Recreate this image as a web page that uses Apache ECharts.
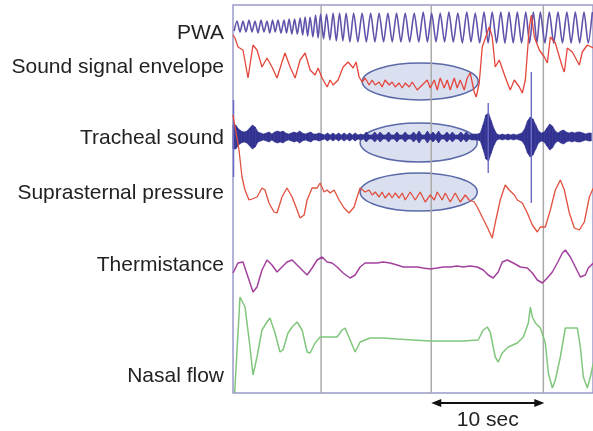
<!DOCTYPE html>
<html>
<head>
<meta charset="utf-8">
<script src="https://cdn.jsdelivr.net/npm/echarts@6/dist/echarts.min.js"></script>
<style>
  html, body { margin: 0; padding: 0; background: #fff; }
  #chart { width: 593px; height: 431px; }
</style>
</head>
<body>
<div id="chart"></div>
<script>
// time in seconds, amplitudes in arbitrary units
var timeMax = 32.4;
var gridTimes = [7.93, 17.84, 27.93];
var traceNames = ['PWA', 'Sound signal envelope', 'Tracheal sound', 'Suprasternal pressure', 'Thermistance', 'Nasal flow'];

var pwa = [
  [0.10,14],[0.36,24],[0.63,13],[0.90,24],[1.17,13],[1.44,25],[1.71,13],[1.98,24],[2.25,12],[2.52,25],
  [2.79,13],[3.06,24],[3.31,12],[3.56,25],[3.80,13],[4.05,25],[4.32,12],[4.59,25],[4.82,12],[5.05,26],
  [5.30,11],[5.54,26],[5.79,11],[6.04,27],[6.27,10],[6.49,28],[6.72,9],[6.94,28],[7.19,8],[7.43,30],
  [7.66,7],[7.88,31],[8.15,6],[8.42,31],[8.72,5],[9.01,32],[9.30,4],[9.59,32],[9.89,4],[10.18,32],
  [10.52,3],[10.86,32],[11.24,3],[11.62,32],[12.00,3],[12.39,32],[12.77,3],[13.15,32],[13.55,3],[13.94,32],
  [14.33,3],[14.72,32],[15.11,3],[15.50,32],[15.90,3],[16.31,32],[16.72,3],[17.12,33],[17.50,3],[17.88,32],
  [18.27,3],[18.65,32],[19.04,3],[19.43,33],[19.83,3],[20.23,32],[20.64,2],[21.04,33],[21.42,3],[21.80,32],
  [22.20,2],[22.59,33],[22.96,2],[23.33,33],[23.72,2],[24.10,33],[24.47,2],[24.84,33],[25.22,2],[25.59,33],
  [25.97,2],[26.35,33],[26.69,2],[27.03,33],[27.35,2],[27.66,33],[28.07,2],[28.47,33],[28.86,2],[29.25,33],
  [29.65,2],[30.05,33],[30.43,2],[30.81,33],[31.20,2],[31.59,33],[31.97,2],[32.34,33]
];

var envelope = [
  [0,65],[0.18,62],[0.45,53],[0.90,50],[1.35,22],[1.80,55],[2.16,50],[2.61,33],[3.06,42],[3.51,33],
  [3.96,22],[4.41,38],[4.68,47],[5.14,33],[5.59,22],[6.04,40],[6.49,47],[6.94,30],[7.39,25],[7.66,32],
  [8.02,22],[8.47,13],[8.74,20],[9.01,15],[9.46,20],[9.91,33],[10.36,38],[10.81,32],[11.08,38],[11.35,23],
  [11.62,18],[11.89,22],[12.25,15],[12.52,20],[12.79,15],[13.15,18],[13.42,13],[13.69,20],[14.05,15],[14.32,18],
  [14.59,13],[14.95,17],[15.23,12],[15.50,17],[15.86,13],[16.13,18],[16.58,10],[17.03,15],[17.48,20],[17.75,12],
  [18.11,20],[18.38,10],[18.65,22],[19.01,12],[19.28,20],[19.55,10],[19.91,22],[20.18,12],[20.45,20],[20.81,10],
  [21.08,22],[21.35,27],[21.71,8],[21.89,3],[22.16,17],[22.43,53],[23.06,73],[23.33,63],[23.60,33],[23.96,40],
  [24.50,23],[24.95,10],[25.32,20],[25.77,13],[26.04,7],[26.31,20],[26.67,73],[26.85,85],[27.12,63],[27.57,50],
  [28.02,43],[28.29,37],[28.56,63],[29.01,57],[29.64,33],[29.82,28],[30.09,52],[30.54,48],[31.17,35],[31.44,48],
  [31.89,55],[32.43,52]
];

// tracheal sound: half-height of the noise band every 0.25 s
var trachStep = 0.25;
var trachAmp = [
  12,12,8,6,5,6,9,12,10,5,
  4,3,4,5,3,5,6,5,6,4,
  3,4,5,4,6,4,3,4,5,3,
  3,4,3,2,4,2,4,2,4,2,
  4,2,4,2,4,2,3,2,5,2,
  2,5,2,5,2,2,5,2,2,5,
  2,2,5,2,2,5,2,6,2,2,
  6,2,5,2,6,2,2,5,2,5,
  2,2,5,2,5,2,3,3,3,4,
  12,22,24,16,8,3,2,3,2,3,
  2,3,2,3,4,8,16,20,18,12,
  6,4,5,9,13,11,6,4,6,7,
  5,4,5,4,5,5,4,3,4,4
];
// thin spikes: [time, top, bottom]
var trachSpikes = [[0.05, 37, -40], [22.97, 34, -36], [26.85, 65, -66]];

var suprasternal = [
  [0,100],[0.09,98],[0.54,65],[0.81,38],[1.08,25],[1.44,15],[1.71,16],[2.16,18],[2.61,27],[2.88,25],
  [3.24,12],[3.69,3],[3.96,2],[4.41,18],[4.86,27],[5.32,18],[5.77,5],[6.04,-3],[6.40,0],[6.67,15],
  [7.12,27],[7.57,27],[7.84,32],[8.20,23],[8.47,25],[8.74,22],[9.10,25],[9.55,15],[10.00,7],[10.45,2],
  [10.90,8],[11.17,18],[11.44,27],[11.62,28],[11.89,23],[12.25,25],[12.52,20],[12.79,23],[13.15,18],[13.42,23],
  [13.69,17],[14.05,22],[14.32,17],[14.59,22],[14.95,17],[15.23,22],[15.50,15],[15.95,23],[16.40,15],[16.85,23],
  [17.30,13],[17.75,20],[18.11,15],[18.38,23],[18.83,15],[19.10,22],[19.55,13],[20.00,22],[20.45,13],[20.90,20],
  [21.26,15],[21.71,13],[21.98,8],[22.43,-2],[22.88,-12],[23.33,-23],[23.60,-8],[24.05,15],[24.50,30],[24.86,25],
  [25.32,20],[25.59,15],[26.04,12],[26.49,2],[26.94,-10],[27.39,-17],[27.66,-12],[28.11,-12],[28.56,5],[29.01,25],
  [29.46,35],[29.82,25],[30.27,2],[30.72,-13],[31.17,-15],[31.62,-7],[32.07,18],[32.43,27]
];

var thermistance = [
  [0,-8],[0.45,2],[0.90,3],[1.35,-12],[1.80,-27],[2.16,-22],[2.61,-5],[3.06,5],[3.51,0],[3.96,-7],
  [4.41,-2],[4.86,3],[5.32,5],[5.77,0],[6.22,-5],[6.67,-10],[7.12,-3],[7.57,5],[8.02,8],[8.47,3],
  [8.92,2],[9.37,-2],[9.91,-8],[10.54,-13],[10.99,-10],[11.44,-2],[11.89,2],[12.34,2],[12.97,2],[13.51,3],
  [14.14,2],[14.77,0],[15.32,-2],[15.95,-2],[16.58,-2],[17.12,-3],[17.75,-4],[18.38,-3],[18.92,-2],[19.55,-2],
  [20.18,-1],[20.72,-2],[21.35,-1],[21.98,-2],[22.52,-5],[22.97,-10],[23.42,-13],[23.87,-7],[24.23,3],[24.68,5],
  [25.23,2],[25.86,-2],[26.49,-3],[26.94,-8],[27.39,-15],[27.84,-18],[28.29,-13],[28.74,-7],[29.19,2],[29.64,12],
  [29.91,15],[30.36,8],[30.81,-2],[31.26,-12],[31.71,-10],[31.98,-3],[32.43,2]
];

var nasalFlow = [
  [0.15,-48],[0.63,48],[1.08,38],[1.53,-2],[1.80,-30],[2.16,-12],[2.61,15],[3.06,23],[3.33,27],[3.78,12],
  [4.23,-7],[4.50,-5],[4.95,12],[5.32,18],[5.77,23],[6.22,15],[6.67,-7],[6.94,-8],[7.39,2],[7.84,8],
  [8.47,8],[9.37,8],[9.82,15],[10.09,17],[10.54,5],[10.99,-7],[11.44,3],[12.34,7],[13.51,7],[14.77,6],
  [16.22,5],[17.75,4],[19.28,4],[20.72,4],[22.07,5],[22.52,15],[22.88,18],[23.15,13],[23.60,-12],[23.87,-17],
  [24.23,-8],[24.77,-2],[25.59,2],[26.13,8],[26.58,22],[26.76,38],[26.94,28],[27.21,22],[27.66,17],[28.11,2],
  [28.38,-28],[28.74,-43],[29.01,-35],[29.46,-12],[29.91,17],[30.36,17],[30.99,17],[31.26,-2],[31.53,-32],[31.89,-43],
  [32.16,-32],[32.43,-18]
];

// ellipses: [centre time, half width (s), axis index, centre value, half height]
var highlights = [[16.85, 5.22, 1, 18.5, 18.5], [16.71, 5.27, 2, -5.5, 19.5], [16.71, 5.27, 3, 23, 19]];
var scaleBar = [17.84, 28.02];

// baseline pixel row of each trace inside the plot box (top 5, bottom 393)
var baselines = [45, 100, 137, 215, 265, 345];
var plotTop = 5, plotBottom = 393;

var dom = document.getElementById('chart');
var myChart = echarts.init(dom, null, { renderer: 'canvas' });

var yAxes = baselines.map(function (b) {
  return { type: 'value', show: false, min: b - plotBottom, max: b - plotTop };
});

var trachData = trachAmp.map(function (a, i) { return [i * trachStep, a, -a]; });

function vline(width, color) {
  return function (params, api) {
    var p1 = api.coord([api.value(0), api.value(1)]);
    var p2 = api.coord([api.value(0), api.value(2)]);
    return {
      type: 'line',
      shape: { x1: p1[0], y1: p1[1], x2: p2[0], y2: p2[1] },
      style: { stroke: color, lineWidth: width }
    };
  };
}

// filled band between one envelope sample and the next
function band(params, api) {
  var i = params.dataIndex;
  if (i >= trachData.length - 1) return null;
  var a = trachData[i], b = trachData[i + 1];
  var pts = [
    api.coord([a[0], a[1]]), api.coord([b[0], b[1]]),
    api.coord([b[0], b[2]]), api.coord([a[0], a[2]])
  ];
  return {
    type: 'polygon',
    shape: { points: pts },
    style: { fill: '#323292', stroke: '#323292', lineWidth: 0.6 }
  };
}

function trace(name, data, yIndex, color, width, smooth) {
  return {
    name: name, type: 'line', data: data, yAxisIndex: yIndex,
    showSymbol: false, smooth: smooth || 0, clip: true, z: 3,
    lineStyle: { color: color, width: width }
  };
}

var option = {
  animation: false,
  grid: {
    left: 233, right: 0, top: plotTop, bottom: 431 - plotBottom,
    show: true, borderColor: '#9a9acb', borderWidth: 1.5
  },
  xAxis: { type: 'value', min: 0, max: timeMax, show: false },
  yAxis: yAxes,
  series: [
    {
      type: 'custom', z: 1, yAxisIndex: 0,
      data: gridTimes.map(function (t) { return [t]; }),
      renderItem: function (params, api) {
        var x = api.coord([api.value(0), 0])[0];
        var cs = params.coordSys;
        return {
          type: 'line',
          shape: { x1: x, y1: cs.y, x2: x, y2: cs.y + cs.height },
          style: { stroke: '#aaaaaa', lineWidth: 1.5 }
        };
      }
    },
    trace(traceNames[0], pwa, 0, '#5f54aa', 1.6, 0.25),
    trace(traceNames[1], envelope, 1, '#e4463c', 1.3),
    {
      name: traceNames[2], type: 'custom', yAxisIndex: 2, z: 3,
      data: trachData, renderItem: band
    },
    {
      type: 'custom', yAxisIndex: 2, z: 3,
      data: trachSpikes, renderItem: vline(1.4, '#6a6ac2')
    },
    trace(traceNames[3], suprasternal, 3, '#e2503e', 1.3),
    trace(traceNames[4], thermistance, 4, '#a2409e', 1.5),
    trace(traceNames[5], nasalFlow, 5, '#80c67c', 1.5)
  ]
};

myChart.setOption(option);

// annotations placed through the axes
var graphics = [];
highlights.forEach(function (h) {
  var c = myChart.convertToPixel({ xAxisIndex: 0, yAxisIndex: h[2] }, [h[0], h[3]]);
  var e = myChart.convertToPixel({ xAxisIndex: 0, yAxisIndex: h[2] }, [h[0] + h[1], h[3] + h[4]]);
  graphics.push({
    type: 'ellipse', z: 0,
    shape: { cx: c[0], cy: c[1], rx: e[0] - c[0], ry: c[1] - e[1] },
    style: { fill: 'rgba(190,198,228,0.55)', stroke: '#5a69a8', lineWidth: 1.5 }
  });
});

var labelFont = '21px "Liberation Sans", Arial, sans-serif';
var labelY = [33, 67, 138, 193, 265, 376];
traceNames.forEach(function (n, i) {
  graphics.push({
    type: 'text', x: 224, y: labelY[i],
    style: { text: n, font: labelFont, fill: '#222', align: 'right', verticalAlign: 'middle' }
  });
});

var a0 = myChart.convertToPixel({ xAxisIndex: 0 }, scaleBar[0]);
var a1 = myChart.convertToPixel({ xAxisIndex: 0 }, scaleBar[1]);
var ay = 403;
graphics.push(
  { type: 'line', shape: { x1: a0 + 4, y1: ay, x2: a1 - 4, y2: ay }, style: { stroke: '#111', lineWidth: 1.8 } },
  { type: 'polygon', shape: { points: [[a0, ay], [a0 + 10, ay - 4], [a0 + 10, ay + 4]] }, style: { fill: '#111' } },
  { type: 'polygon', shape: { points: [[a1, ay], [a1 - 10, ay - 4], [a1 - 10, ay + 4]] }, style: { fill: '#111' } },
  {
    type: 'text', x: (a0 + a1) / 2, y: 420,
    style: { text: '10 sec', font: labelFont, fill: '#222', align: 'center', verticalAlign: 'middle' }
  }
);

myChart.setOption({ graphic: graphics });

window.addEventListener('resize', myChart.resize);
</script>
</body>
</html>
